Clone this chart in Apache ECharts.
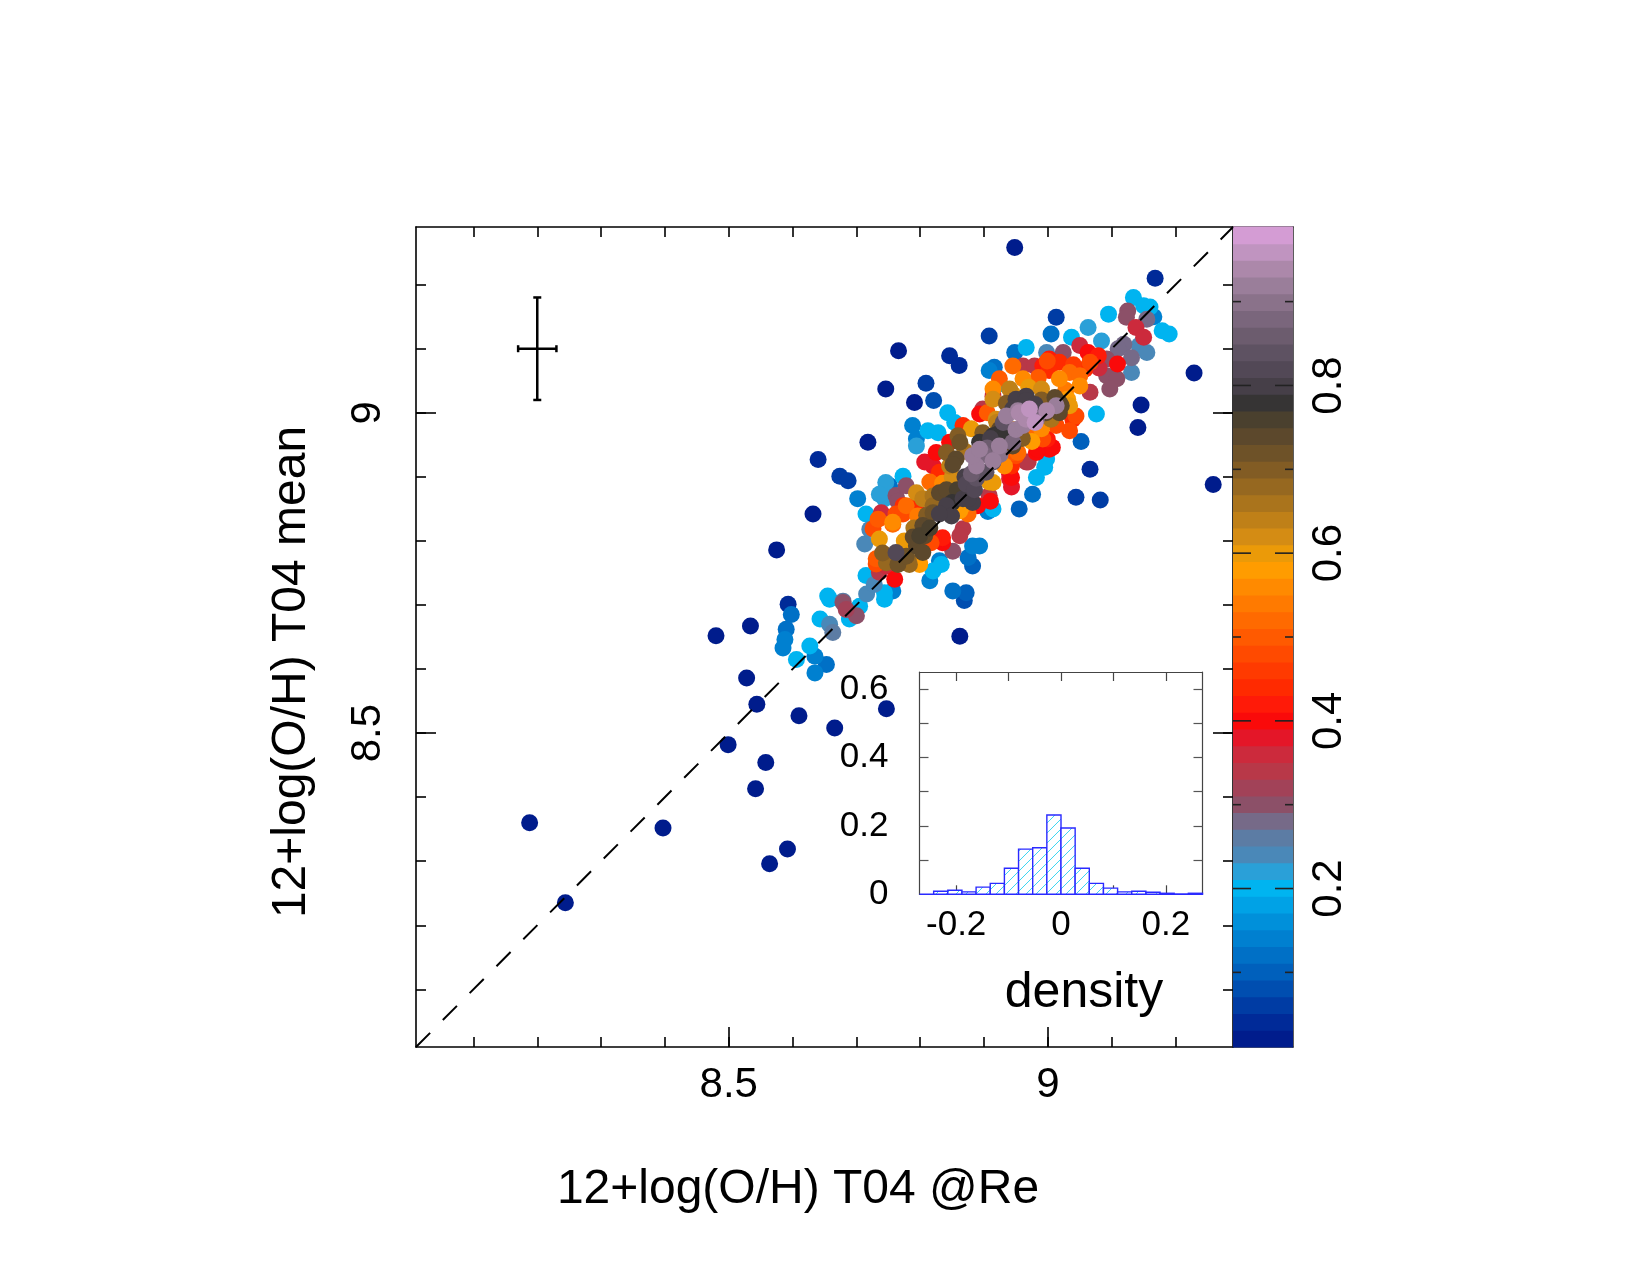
<!DOCTYPE html>
<html><head><meta charset="utf-8">
<script src="https://cdn.jsdelivr.net/npm/echarts@6/dist/echarts.min.js"></script>
<style>html,body{margin:0;padding:0;background:#fff}#c{width:1650px;height:1275px}</style>
</head><body><div id="c"></div>
<script>
const FONT = '"Liberation Sans", Arial, Helvetica, sans-serif';

// ---- main panel axes ----
const mainRange = [8.01, 9.29];
const mainMinorTicks = [8.1, 8.2, 8.3, 8.4, 8.5, 8.6, 8.7, 8.8, 8.9, 9.0, 9.1, 9.2];
const mainMajorTicks = [8.5, 9];
const xTitle = '12+log(O/H) T04 @Re';
const yTitle = '12+log(O/H) T04 mean';

// ---- typical error bar ----
const errBar = [8.2, 9.1, 0.03, 0.08]; // x, y, xerr, yerr

// ---- points: [x, y, density] ----
const outlierPts = [
  [8.188,8.360,0.02],[8.244,8.235,0.02],[8.397,8.352,0.02],[8.480,8.652,0.02],[8.534,8.667,0.02],
  [8.528,8.586,0.02],[8.544,8.545,0.02],[8.499,8.482,0.02],[8.558,8.454,0.02],[8.542,8.413,0.02],
  [8.592,8.319,0.02],[8.564,8.296,0.02],[8.610,8.527,0.02],[8.666,8.508,0.02],[8.747,8.538,0.02],
  [8.593,8.701,0.04],[8.575,8.786,0.02],[8.632,8.842,0.02],[8.640,8.927,0.04],[8.674,8.901,0.06],
  [8.687,8.894,0.06],[8.718,8.954,0.02],[8.746,9.037,0.02],[8.766,9.097,0.02],[8.791,9.016,0.02],
  [8.809,9.046,0.06],[8.821,9.019,0.08],[8.846,9.089,0.04],[8.861,9.074,0.04],[8.908,9.120,0.06],
  [8.948,9.258,0.02],[9.013,9.149,0.06],[9.168,9.210,0.04],[9.229,9.062,0.02],[9.259,8.888,0.02],
  [9.146,9.012,0.02],[9.141,8.977,0.02],[9.066,8.912,0.04],[9.044,8.868,0.06],[9.082,8.864,0.06],
  [8.862,8.651,0.02],[8.869,8.707,0.08],[8.872,8.719,0.10]
];
const bluePts = [
  [8.598,8.685,0.12],[8.590,8.662,0.12],[8.588,8.646,0.14],[8.585,8.633,0.14],[8.606,8.615,0.20],
  [8.627,8.636,0.20],[8.635,8.620,0.14],[8.653,8.607,0.12],[8.635,8.594,0.14],[8.643,8.678,0.20],
  [8.658,8.670,0.24],[8.663,8.657,0.26],[8.658,8.709,0.20],[8.679,8.706,0.26],[8.705,8.698,0.20],
  [8.716,8.717,0.24],[8.744,8.709,0.20],[8.757,8.722,0.14],[8.689,8.678,0.20],[8.655,8.714,0.20],
  [8.715,8.746,0.20],[8.728,8.732,0.24],[8.744,8.719,0.20],[8.815,8.738,0.14],[8.820,8.753,0.20],
  [8.830,8.769,0.14],[8.833,8.763,0.20],[8.851,8.722,0.12],[8.882,8.761,0.10],[8.875,8.774,0.12],
  [8.893,8.792,0.14],[8.882,8.792,0.14],[8.713,8.795,0.24],[8.715,8.842,0.20],[8.721,8.818,0.24],
  [8.702,8.866,0.14],[8.744,8.875,0.22],[8.744,8.866,0.22],[8.746,8.891,0.22],[8.736,8.873,0.22],
  [8.752,8.886,0.12],[8.773,8.901,0.20],[8.788,8.980,0.14],[8.794,8.959,0.14],[8.794,8.948,0.22],
  [8.812,8.972,0.20],[8.828,8.969,0.20],[8.843,9.000,0.20],[8.854,8.985,0.20],[8.916,9.071,0.12],
  [8.908,9.066,0.14],[8.924,9.045,0.20],[8.948,9.094,0.12],[8.966,9.102,0.20],[9.005,9.123,0.12],
  [8.998,9.094,0.24],[9.037,9.118,0.20],[9.063,9.133,0.22],[9.084,9.112,0.22],[9.095,9.154,0.20],
  [9.134,9.180,0.20],[9.150,9.167,0.20],[9.160,9.165,0.20],[9.166,9.150,0.14],[9.179,9.128,0.20],
  [9.190,9.123,0.20],[9.143,9.105,0.24],[9.155,9.094,0.24],[9.131,9.063,0.24],[9.076,8.998,0.20],
  [9.052,8.955,0.10],[8.998,8.928,0.20],[8.995,8.915,0.20],[8.982,8.899,0.20],[8.976,8.873,0.12],
  [8.955,8.850,0.10],[8.914,8.850,0.20],[8.906,8.846,0.14],[9.155,9.146,0.28],[9.119,9.107,0.28],
  [9.110,9.100,0.28],[9.131,9.086,0.28]
];
const bandPts = [
  [8.684,8.693,0.32],[8.700,8.683,0.30],[8.679,8.704,0.30],[8.760,8.740,0.40],[8.736,8.751,0.34],
  [8.731,8.764,0.48],[8.747,8.766,0.68],[8.762,8.782,0.82],[8.781,8.771,0.68],[8.799,8.766,0.56],
  [8.794,8.792,0.74],[8.835,8.797,0.40],[8.851,8.784,0.30],[8.726,8.819,0.48],[8.736,8.803,0.60],
  [8.734,8.834,0.50],[8.739,8.844,0.36],[8.731,8.772,0.50],[8.747,8.761,0.36],[8.765,8.763,0.72],
  [8.778,8.776,0.72],[8.757,8.826,0.52],[8.762,8.842,0.48],[8.778,8.855,0.52],[8.762,8.871,0.30],
  [8.778,8.886,0.30],[8.773,8.855,0.44],[8.794,8.875,0.62],[8.804,8.866,0.64],[8.796,8.839,0.54],
  [8.804,8.824,0.74],[8.799,8.808,0.76],[8.789,8.806,0.74],[8.804,8.782,0.74],[8.799,8.763,0.58],
  [8.783,8.763,0.68],[8.817,8.797,0.48],[8.835,8.805,0.42],[8.820,8.844,0.72],[8.830,8.875,0.74],
  [8.841,8.855,0.80],[8.849,8.839,0.80],[8.815,8.892,0.52],[8.820,8.917,0.38],[8.807,8.923,0.38],
  [8.830,8.907,0.44],[8.846,8.917,0.64],[8.856,8.928,0.74],[8.862,8.954,0.72],[8.859,8.964,0.70],
  [8.846,8.954,0.40],[8.867,8.980,0.44],[8.872,8.889,0.82],[8.867,8.866,0.80],[8.882,8.860,0.80],
  [8.862,8.847,0.58],[8.875,8.842,0.52],[8.890,8.855,0.40],[8.888,8.917,0.92],[8.882,8.933,0.92],
  [8.893,8.943,0.92],[8.903,8.907,0.84],[8.888,8.898,0.84],[8.914,8.923,0.84],[8.908,8.892,0.60],
  [8.908,8.871,0.34],[8.910,8.862,0.40],[8.893,8.954,0.78],[8.914,8.964,0.78],[8.922,8.967,0.78],
  [8.924,8.948,0.92],[8.937,8.948,0.74],[8.945,8.938,0.50],[8.943,8.917,0.44],[8.940,8.897,0.38],
  [8.943,8.884,0.38],[8.966,8.923,0.34],[8.982,8.938,0.40],[9.002,8.943,0.40],[8.992,8.959,0.48],
  [8.976,8.969,0.52],[8.945,8.974,0.58],[8.935,8.995,0.92],[8.955,9.000,0.94],[8.971,9.006,0.96],
  [8.982,8.990,0.88],[8.997,9.000,0.74],[8.950,9.021,0.80],[8.966,9.026,0.80],[8.914,9.021,0.62],
  [8.893,8.998,0.40],[8.914,9.037,0.56],[8.924,9.053,0.50],[8.940,9.037,0.64],[8.961,9.073,0.34],
  [8.945,9.073,0.52],[8.992,9.073,0.42],[9.002,9.084,0.42],[8.914,9.026,0.36],[8.898,9.006,0.34],
  [8.920,8.985,0.64],[8.841,8.938,0.70],[8.825,8.938,0.40],[9.125,9.159,0.30],[9.123,9.149,0.30],
  [9.138,9.133,0.36],[9.150,9.118,0.36],[9.092,9.084,0.30],[9.092,9.058,0.30],[9.108,9.053,0.30],
  [9.097,9.037,0.30],[9.066,9.032,0.34],[9.063,9.094,0.40],[9.079,9.089,0.42],[9.109,9.076,0.40],
  [9.050,9.105,0.36],[9.024,9.094,0.30],[9.018,9.079,0.44],[8.999,9.081,0.48],[9.002,9.066,0.44],
  [8.979,9.073,0.34],[9.034,9.063,0.52],[9.050,9.058,0.52],[9.018,9.053,0.56],[9.050,9.042,0.56],
  [9.058,9.068,0.44],[9.066,9.079,0.48],[8.990,9.037,0.62],[8.961,9.053,0.56],[8.945,9.029,0.62],
  [8.966,9.019,0.80],[8.953,9.003,0.92],[8.980,9.013,0.80],[8.980,8.985,0.96],[8.998,9.003,0.94],
  [9.021,9.011,0.74],[9.031,9.021,0.58],[9.044,8.995,0.48],[9.034,8.972,0.48],[9.013,8.980,0.48],
  [8.999,8.959,0.42],[8.984,8.943,0.40],[9.007,8.946,0.40],[8.969,8.923,0.34],[8.943,8.899,0.40],
  [8.924,8.974,0.74],[8.910,8.960,0.80],[8.945,8.954,0.88],[8.950,8.974,0.92],[8.961,8.980,0.92],
  [9.011,9.024,0.74],[9.018,9.016,0.74],[8.950,8.933,0.48],[8.932,8.917,0.56],[8.914,8.891,0.60],
  [8.867,8.819,0.34],[8.862,8.808,0.34],[8.741,8.781,0.70],[8.765,8.862,0.30],[8.773,8.842,0.48],
  [8.757,8.829,0.56],[8.794,8.857,0.44],[8.820,8.855,0.68],[8.807,8.808,0.74],[8.841,8.880,0.74],
  [8.851,8.919,0.74],[8.830,8.842,0.80],[8.867,8.855,0.56],[8.875,8.866,0.80],[8.820,8.803,0.42],
  [8.914,8.925,0.92],[8.940,8.904,0.38],[8.935,8.964,0.78],[8.945,8.948,0.74],[8.898,8.969,0.70],
  [8.919,8.990,0.62],[8.966,8.990,0.94],[9.013,9.011,0.92],[9.018,9.000,0.74],[9.034,9.011,0.60],
  [9.039,8.990,0.44],[8.953,8.938,0.52],[8.945,9.006,0.80]
];
// core points partly hidden under the overlap (estimated)
const corePts = [
  [8.870,8.900,0.80],[8.858,8.880,0.76],[8.885,8.880,0.82],[8.900,8.935,0.88],[8.925,8.935,0.90],
  [8.905,8.945,0.86],[8.930,8.985,0.84],[8.960,8.960,0.70],[8.975,8.955,0.58],[8.990,8.975,0.56],
  [9.005,8.990,0.66],[9.028,9.035,0.54],[9.040,9.075,0.46],[8.935,9.015,0.70],[8.970,9.040,0.60],
  [8.985,9.055,0.50],[8.905,9.000,0.50],[8.880,8.975,0.60],[8.870,8.940,0.66],[8.850,8.900,0.62],
  [8.835,8.890,0.56],[8.820,8.870,0.66],[8.810,8.840,0.70],[8.790,8.820,0.66],[8.775,8.800,0.60],
  [8.815,8.820,0.76],[8.850,8.860,0.78],[8.880,8.905,0.86],[8.990,9.020,0.70],[9.080,9.070,0.36]
];

// ---- colour bar ----
const cbRange = [0.011, 0.989];
const cbMinorTicks = [0.1, 0.2, 0.3, 0.4, 0.5, 0.6, 0.7, 0.8, 0.9];
const cbMajorTicks = [0.2, 0.4, 0.6, 0.8];
const cbColors = [
  '#001c8c','#002a98','#003ca4','#004eb0','#0060bc','#0070c6','#0080d0','#0090da','#00a2e6','#00b4f0',
  '#2aa0d8','#4a88b8','#5c7ca4','#766a88','#8c5068','#a24258','#b83848','#cc2a3c','#e41628','#fa0a0a',
  '#ff1a08','#ff2a00','#ff3a00','#ff4a00','#ff5a00','#ff6a00','#ff7a00','#ff8a00','#ff9c00','#eb9a08',
  '#d48c14','#bf8018','#aa741c','#966820','#825c24','#6e5228','#5c482c','#4a402e','#363434','#463f48',
  '#524856','#5e5262','#6c5c6e','#7a667c','#8a728a','#9a7e9a','#ac88aa','#c094c0','#d49cd4'
];

// ---- inset histogram ----
const insetXRange = [-0.27, 0.27];
const insetYRange = [0, 0.65];
const insetXTicks = [-0.2, -0.1, 0, 0.1, 0.2];
const insetXLabels = [-0.2, 0, 0.2];
const insetYTicks = [0.1, 0.2, 0.3, 0.4, 0.5, 0.6];
const insetYLabels = [0, 0.2, 0.4, 0.6];
const histBinLeft = [-0.27,-0.243,-0.216,-0.189,-0.162,-0.135,-0.108,-0.081,-0.054,-0.027,
                     0,0.027,0.054,0.081,0.108,0.135,0.162,0.189,0.216,0.243];
const histBinWidth = 0.027;
const histDensity = [0,0.009,0.012,0.007,0.021,0.032,0.076,0.132,0.136,0.232,
                     0.194,0.076,0.032,0.018,0.007,0.009,0.006,0.003,0.001,0.003];
const insetLabel = 'density';

// ---------------------------------------------------------------
const nBands = cbColors.length;
const bandStep = (cbRange[1] - cbRange[0]) / nBands;
const bandData = cbColors.map((c, i) => [0, cbRange[0] + i * bandStep, cbRange[0] + (i + 1) * bandStep]);
const pieces = cbColors.map((c, i) => ({
  gte: i === 0 ? -10 : bandData[i][1],
  lt: i === nBands - 1 ? 10 : bandData[i][2],
  color: c
}));
const cbTickData = cbMinorTicks.map(v => [0.5, v, cbMajorTicks.indexOf(v) >= 0 ? 1 : 0]);

const allPts = outlierPts.concat(bluePts, bandPts, corePts).slice().sort((a, b) => a[2] - b[2]);

// hatch pattern for histogram bars
const pc = document.createElement('canvas');
pc.width = 10; pc.height = 10;
const g = pc.getContext('2d');
g.fillStyle = '#ffffff'; g.fillRect(0, 0, 10, 10);
g.strokeStyle = '#3fd6f2'; g.lineWidth = 1;
g.beginPath();
g.moveTo(0, 10); g.lineTo(10, 0);
g.moveTo(-2, 2); g.lineTo(2, -2);
g.moveTo(8, 12); g.lineTo(12, 8);
g.stroke();

const BLK = '#000';
const NOLINE = {show: false, onZero: false};
function mainAxis(extra) {
  return Object.assign({
    type: 'value', min: mainRange[0], max: mainRange[1], gridIndex: 0,
    splitLine: {show: false}, axisLabel: {show: false},
    axisLine: NOLINE
  }, extra);
}
const lineSt = {show: true, onZero: false, lineStyle: {color: BLK, width: 1.6}};
const cbLine = {show: true, onZero: false, lineStyle: {color: '#333', width: 1.6}};
const inLine = {show: true, onZero: false, lineStyle: {color: '#444', width: 1.2}};
const tk = (len, vals, col, w) => ({show: true, inside: true, length: len, customValues: vals, lineStyle: {color: col, width: w}});

const chart = echarts.init(document.getElementById('c'), null, {renderer: 'canvas'});
chart.setOption({
  animation: false,
  backgroundColor: '#fff',
  grid: [
    {left: 416, top: 227, width: 817, height: 820},
    {left: 1233, top: 227, width: 60, height: 820},
    {left: 919.5, top: 672, width: 283, height: 222.3}
  ],
  xAxis: [
    mainAxis({position: 'bottom', axisLine: lineSt, axisTick: tk(10, mainMinorTicks, BLK, 1.6),
      axisLabel: {show: true, customValues: mainMajorTicks, fontSize: 42, fontFamily: FONT, color: BLK, margin: 17}}),
    mainAxis({position: 'bottom', axisTick: tk(20, mainMajorTicks, BLK, 1.6)}),
    mainAxis({position: 'top', axisLine: lineSt, axisTick: tk(10, mainMinorTicks, BLK, 1.6)}),
    {type: 'value', gridIndex: 1, min: 0, max: 1, position: 'bottom',
      splitLine: {show: false}, axisLabel: {show: false}, axisTick: {show: false}, axisLine: cbLine},
    {type: 'value', gridIndex: 2, min: insetXRange[0], max: insetXRange[1], position: 'bottom',
      splitLine: {show: false}, axisLine: inLine, axisTick: tk(9, insetXTicks, '#444', 1.2),
      axisLabel: {show: true, customValues: insetXLabels, fontSize: 35, fontFamily: FONT, color: BLK, margin: 14}},
    {type: 'value', gridIndex: 2, min: insetXRange[0], max: insetXRange[1], position: 'top',
      splitLine: {show: false}, axisLabel: {show: false}, axisLine: inLine, axisTick: tk(9, insetXTicks, '#444', 1.2)},
    {type: 'value', gridIndex: 1, min: 0, max: 1, position: 'top',
      splitLine: {show: false}, axisLabel: {show: false}, axisTick: {show: false}, axisLine: cbLine}
  ],
  yAxis: [
    mainAxis({position: 'left', axisLine: lineSt, axisTick: tk(10, mainMinorTicks, BLK, 1.6),
      axisLabel: {show: true, customValues: mainMajorTicks, rotate: 90, fontSize: 42, fontFamily: FONT, color: BLK, margin: 27}}),
    mainAxis({position: 'left', axisTick: tk(20, mainMajorTicks, BLK, 1.6)}),
    mainAxis({position: 'right', axisLine: lineSt, axisTick: tk(10, mainMinorTicks, BLK, 1.6)}),
    mainAxis({position: 'right', axisTick: tk(20, mainMajorTicks, BLK, 1.6)}),
    {type: 'value', gridIndex: 1, min: cbRange[0], max: cbRange[1], position: 'left',
      splitLine: {show: false}, axisLabel: {show: false}, axisTick: {show: false}, axisLine: cbLine},
    {type: 'value', gridIndex: 1, min: cbRange[0], max: cbRange[1], position: 'right',
      splitLine: {show: false}, axisTick: {show: false}, axisLine: cbLine,
      axisLabel: {show: true, customValues: cbMajorTicks, rotate: 90, fontSize: 42, fontFamily: FONT, color: BLK, margin: 15}},
    {type: 'value', gridIndex: 2, min: insetYRange[0], max: insetYRange[1], position: 'left',
      splitLine: {show: false}, axisLine: inLine, axisTick: tk(9, insetYTicks, '#555', 1.2),
      axisLabel: {show: true, customValues: insetYLabels, fontSize: 35, fontFamily: FONT, color: BLK, margin: 31}},
    {type: 'value', gridIndex: 2, min: insetYRange[0], max: insetYRange[1], position: 'right',
      splitLine: {show: false}, axisLabel: {show: false}, axisLine: inLine, axisTick: tk(9, insetYTicks, '#555', 1.2)}
  ],
  visualMap: {
    type: 'piecewise', show: false, dimension: 2, seriesIndex: 0, pieces: pieces
  },
  series: [
    {
      type: 'scatter', xAxisIndex: 0, yAxisIndex: 0, data: allPts,
      symbol: 'circle', symbolSize: 17, itemStyle: {opacity: 1}, z: 2, silent: true
    },
    {
      type: 'line', xAxisIndex: 0, yAxisIndex: 0,
      data: [[mainRange[0], mainRange[0]], [mainRange[1], mainRange[1]]],
      symbol: 'none', silent: true, z: 4,
      lineStyle: {color: BLK, width: 2, type: [20, 18]}
    },
    {
      type: 'custom', xAxisIndex: 0, yAxisIndex: 0, data: [errBar], z: 4, silent: true,
      renderItem: function (params, api) {
        const x = api.value(0), y = api.value(1), dx = api.value(2), dy = api.value(3);
        const l = api.coord([x - dx, y]), r = api.coord([x + dx, y]);
        const t = api.coord([x, y + dy]), b = api.coord([x, y - dy]);
        const st = {stroke: BLK, lineWidth: 2.5};
        const ln = (x1, y1, x2, y2) => ({type: 'line', shape: {x1, y1, x2, y2}, style: st});
        return {type: 'group', children: [
          ln(l[0], l[1], r[0], r[1]), ln(t[0], t[1], b[0], b[1]),
          ln(l[0], l[1] - 3.5, l[0], l[1] + 3.5), ln(r[0], r[1] - 3.5, r[0], r[1] + 3.5),
          ln(t[0] - 4, t[1], t[0] + 4, t[1]), ln(b[0] - 4, b[1], b[0] + 4, b[1])
        ]};
      }
    },
    {
      type: 'custom', xAxisIndex: 3, yAxisIndex: 4, data: bandData, silent: true, clip: false, z: 1,
      encode: {x: 0, y: [1, 2]},
      renderItem: function (params, api) {
        const lo = api.value(1), hi = api.value(2);
        const p1 = api.coord([0, hi]), p2 = api.coord([1, lo]);
        return {type: 'rect', shape: {x: p1[0], y: p1[1] - 0.4, width: p2[0] - p1[0], height: p2[1] - p1[1] + 0.8},
          style: {fill: cbColors[params.dataIndex]}};
      }
    },
    {
      type: 'custom', xAxisIndex: 3, yAxisIndex: 4, data: cbTickData, silent: true, clip: false, z: 3,
      renderItem: function (params, api) {
        const v = api.value(1), major = api.value(2) === 1;
        const pl = api.coord([0, v]), pr = api.coord([1, v]);
        const len = major ? 18 : 8;
        const st = {stroke: '#222', lineWidth: 1.6};
        return {type: 'group', children: [
          {type: 'line', shape: {x1: pl[0], y1: pl[1], x2: pl[0] + len, y2: pl[1]}, style: st},
          {type: 'line', shape: {x1: pr[0] - len, y1: pr[1], x2: pr[0], y2: pr[1]}, style: st}
        ]};
      }
    },
    {
      type: 'custom', xAxisIndex: 4, yAxisIndex: 6, silent: true,
      data: histBinLeft.map((x0, i) => [x0, histDensity[i], x0 + histBinWidth]),
      encode: {x: [0, 2], y: 1},
      renderItem: function (params, api) {
        const x0 = api.value(0), h = api.value(1), x1 = api.value(2);
        const p1 = api.coord([x0, h]), p2 = api.coord([x1, 0]);
        return {type: 'rect', shape: {x: p1[0], y: p1[1], width: p2[0] - p1[0], height: p2[1] - p1[1]},
          style: {fill: {image: pc, repeat: 'repeat'}, stroke: '#2a2aff', lineWidth: 1.4}};
      }
    }
  ],
  graphic: [
    {type: 'text', x: 798, y: 1190, silent: true,
      style: {text: xTitle, fontSize: 48, fontFamily: FONT, fill: BLK, align: 'center', verticalAlign: 'middle'}},
    {type: 'text', x: 292, y: 672, rotation: Math.PI / 2, silent: true,
      style: {text: yTitle, fontSize: 48, fontFamily: FONT, fill: BLK, align: 'center', verticalAlign: 'middle'}},
    {type: 'text', x: 1084, y: 993, silent: true,
      style: {text: insetLabel, fontSize: 50, fontFamily: FONT, fill: BLK, align: 'center', verticalAlign: 'middle'}}
  ]
});
</script>
</body></html>
